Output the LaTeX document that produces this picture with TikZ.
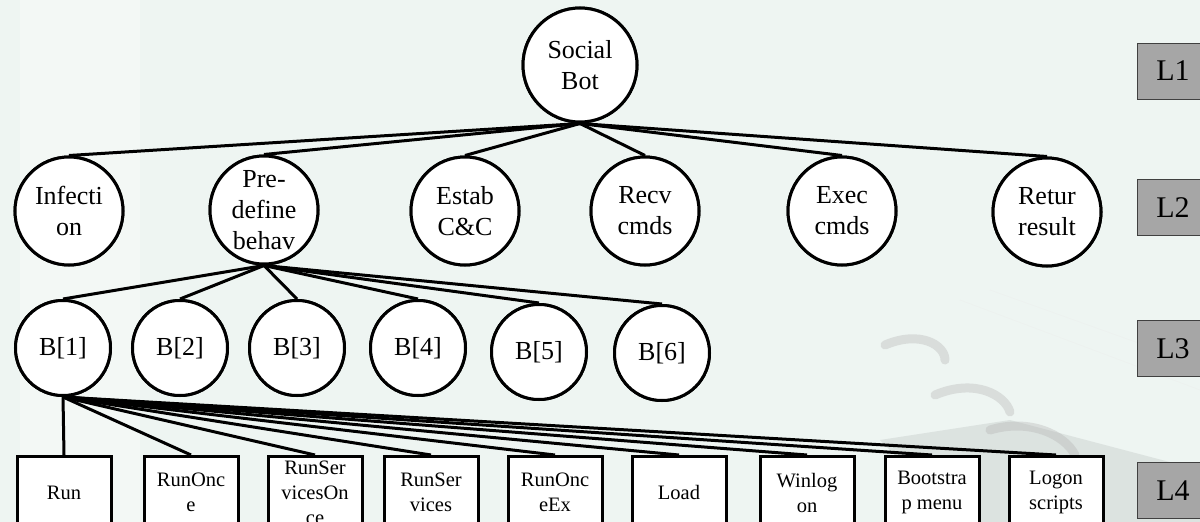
\documentclass[tikz,border=0pt]{standalone}
\usepackage{fontspec}
\setmainfont{Liberation Serif}
\begin{document}
\begin{tikzpicture}[x=1pt,y=-1pt,
  edge/.style={line width=3pt},
  goal/.style={circle,draw,line width=3pt,fill=white,inner sep=0pt,
    minimum size=108pt,align=center,font=\fontsize{26}{31}\selectfont},
  beh/.style={goal,minimum size=95pt},
  key/.style={rectangle,draw,line width=3pt,fill=white,inner sep=0pt,
    minimum width=94pt,minimum height=72pt,anchor=north,align=center,
    font=\fontsize{20.5}{25}\selectfont},
  level/.style={rectangle,draw=black!75,line width=0.8pt,fill=lvlgray,
    minimum width=72pt,minimum height=56pt,inner sep=0pt,
    font=\fontsize{30}{32}\selectfont},
  ring/.style={line width=9pt,draw=black!30,opacity=0.35,line cap=round}]
\definecolor{bgmint}{HTML}{EEF5F2}
\definecolor{lvlgray}{HTML}{A6A6A6}
\useasboundingbox (0,0) rectangle (1200,522);
\clip (0,0) rectangle (1200,522);
\fill[bgmint] (0,0) rectangle (1200,522);
% soft photo backdrop: pale band on the left, binder rings lower right
\fill[white,opacity=0.3] (20,0) rectangle (140,522);
\fill[black!12!bgmint,opacity=0.6] (880,440) -- (1010,420) -- (1200,470)
  -- (1200,522) -- (960,522) -- cycle;
\draw[ring] (885,345) .. controls (920,330) and (945,345) .. (945,360);
\draw[ring] (935,395) .. controls (975,378) and (1005,395) .. (1010,412);
\draw[ring] (990,430) .. controls (1030,418) and (1065,435) .. (1075,455);
\draw[black!8,opacity=0.5] (960,300) -- (1200,390);
\draw[black!8,opacity=0.5] (990,290) -- (1200,365);

% level 1
\node[goal,minimum size=114pt] (sb) at (580,65) {Social\\Bot};
% level 2
\node[goal] (inf) at (69,211) {Infecti\\on};
\node[goal] (pre) at (264,210) {Pre-\\define\\behav};
\node[goal] (est) at (465,211) {Estab\\C\&C};
\node[goal] (rcv) at (645,211) {Recv\\cmds};
\node[goal] (exe) at (842,211) {Exec\\cmds};
\node[goal] (ret) at (1047,212) {Retur\\result};
% level 3
\node[beh] (b1) at (63,348) {B[1]};
\node[beh] (b2) at (180,348) {B[2]};
\node[beh] (b3) at (297,348) {B[3]};
\node[beh] (b4) at (418,348) {B[4]};
\node[beh] (b5) at (539,352) {B[5]};
\node[beh] (b6) at (662,353) {B[6]};
% level 4
\node[key] (k1) at (64,455) {Run};
\node[key] (k2) at (191,455) {RunOnc\\e};
\node[key] (k3) at (315,455) {RunSer\\vicesOn\\ce};
\node[key] (k4) at (431,455) {RunSer\\vices};
\node[key] (k5) at (555,455) {RunOnc\\eEx};
\node[key] (k6) at (679,455) {Load};
\node[key] (k7) at (807,455) {Winlog\\on};
\node[key] (k8) at (932,455) {Bootstra\\p menu};
\node[key] (k9) at (1056,455) {Logon\\scripts};

% level tags
\node[level] (l1) at (1173,71) {L1};
\node[level] (l2) at (1173,207.5) {L2};
\node[level] (l3) at (1173,348.5) {L3};
\node[level] (l4) at (1173,490.5) {L4};

% connectors
\foreach \c in {inf,pre,est,rcv,exe,ret}
  \draw[edge] (sb.south) -- (\c.north);
\foreach \c in {b1,b2,b3,b4,b5,b6}
  \draw[edge] (pre.south) -- (\c.north);
\foreach \c in {k1,k2,k3,k4,k5,k6,k7,k8,k9}
  \draw[edge] (b1.south) -- (\c.north);
% redraw nodes over their connectors
\foreach \c/\t in {inf/{Infecti\\on},pre/{Pre-\\define\\behav},est/{Estab\\C\&C},rcv/{Recv\\cmds},exe/{Exec\\cmds},ret/{Retur\\result}}
  \node[goal] at (\c) {\t};
\node[goal,minimum size=114pt] at (sb) {Social\\Bot};
\foreach \c/\t in {b1/{B[1]},b2/{B[2]},b3/{B[3]},b4/{B[4]},b5/{B[5]},b6/{B[6]}}
  \node[beh] at (\c) {\t};
\end{tikzpicture}
\end{document}
